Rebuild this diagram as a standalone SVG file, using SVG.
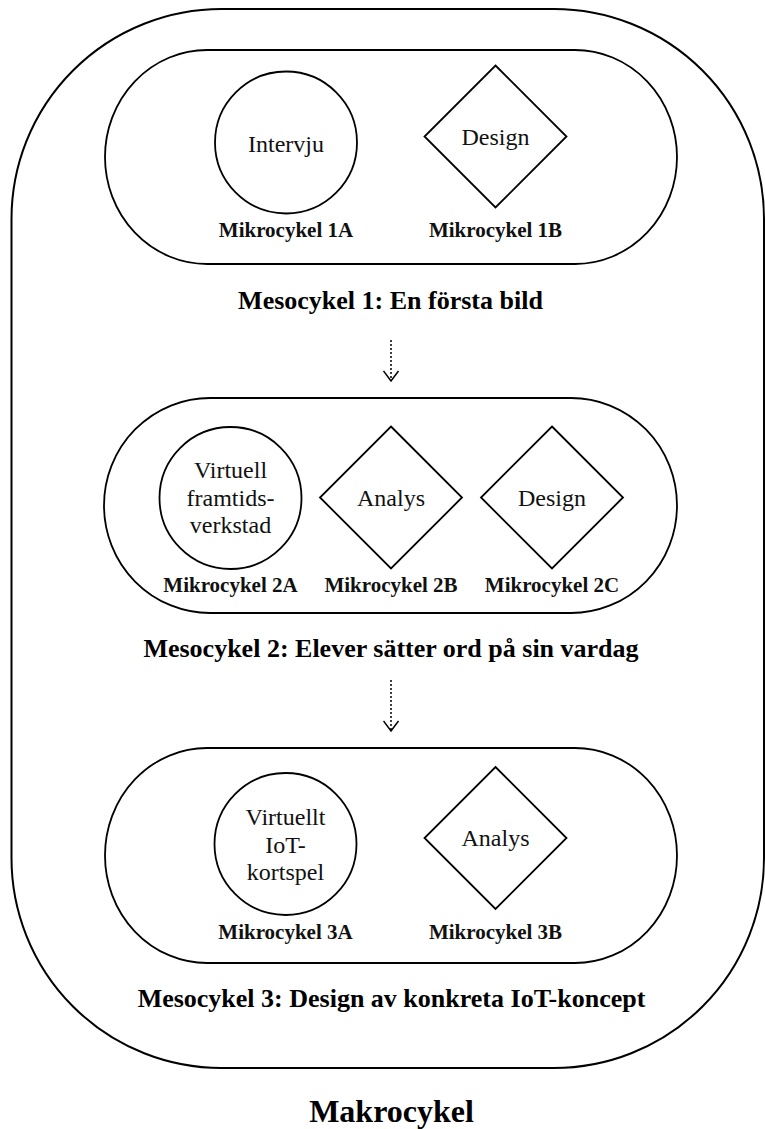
<svg xmlns="http://www.w3.org/2000/svg" width="765" height="1129" viewBox="0 0 765 1129">
<style>
.shape{fill:none;stroke:#000;stroke-width:1.8}
.outer{fill:none;stroke:#000;stroke-width:2}
.inner{font-family:"Liberation Serif","Times New Roman",serif;font-size:24px;fill:#111;text-anchor:middle}
.mik{font-family:"Liberation Serif","Times New Roman",serif;font-size:21px;font-weight:bold;fill:#111;text-anchor:middle}
.meso{font-family:"Liberation Serif","Times New Roman",serif;font-size:26px;font-weight:bold;fill:#000;text-anchor:middle}
.makro{font-family:"Liberation Serif","Times New Roman",serif;font-size:32px;font-weight:bold;fill:#000;text-anchor:middle}
.conn{fill:none;stroke:#000;stroke-width:1.5;stroke-dasharray:2 2}
</style>
<defs>
<marker id="chev" markerWidth="13" markerHeight="17" refX="11" refY="8.5" markerUnits="userSpaceOnUse" orient="auto" viewBox="0 0 13 17">
<path d="M1,1 L11,8.5 L1,16" fill="none" stroke="#000" stroke-width="1.5"/>
</marker>
</defs>
<rect width="765" height="1129" fill="#fff"/>
<g id="makrocykel">
<rect class="outer" x="11.5" y="9" width="752.5" height="1059" rx="210" ry="210"/>
<text class="makro" x="391.5" y="1122">Makrocykel</text>
</g>
<g id="mesocykel1">
<rect class="shape" x="105" y="50" width="572" height="214" rx="102" ry="107"/>
<text class="meso" x="390.5" y="309">Mesocykel 1: En första bild</text>
</g>
<g id="mikrocykel1A">
<circle class="shape" cx="286" cy="142.5" r="71"/>
<text class="inner" x="286" y="152">Intervju</text>
<text class="mik" x="286" y="237">Mikrocykel 1A</text>
</g>
<g id="mikrocykel1B">
<polygon class="shape" points="495.5,65.5 566.5,136.5 495.5,207.5 424.5,136.5"/>
<text class="inner" x="495.5" y="145">Design</text>
<text class="mik" x="495.5" y="237">Mikrocykel 1B</text>
</g>
<g id="mesocykel2">
<rect class="shape" x="104" y="398" width="573" height="215" rx="106" ry="107.5"/>
<text class="meso" x="391" y="657">Mesocykel 2: Elever sätter ord på sin vardag</text>
</g>
<g id="mikrocykel2A">
<circle class="shape" cx="230.5" cy="498" r="71"/>
<text class="inner" x="230.5" y="478">Virtuell</text>
<text class="inner" x="230.5" y="505.5">framtids-</text>
<text class="inner" x="230.5" y="533">verkstad</text>
<text class="mik" x="230.5" y="592">Mikrocykel 2A</text>
</g>
<g id="mikrocykel2B">
<polygon class="shape" points="391,426.5 462,497.5 391,568.5 320,497.5"/>
<text class="inner" x="391" y="506">Analys</text>
<text class="mik" x="391" y="592">Mikrocykel 2B</text>
</g>
<g id="mikrocykel2C">
<polygon class="shape" points="552,426.5 623,497.5 552,568.5 481,497.5"/>
<text class="inner" x="552" y="506">Design</text>
<text class="mik" x="552" y="592">Mikrocykel 2C</text>
</g>
<g id="mesocykel3">
<rect class="shape" x="105" y="748" width="572" height="215" rx="102" ry="107.5"/>
<text class="meso" x="391.5" y="1007">Mesocykel 3: Design av konkreta IoT-koncept</text>
</g>
<g id="mikrocykel3A">
<circle class="shape" cx="285.5" cy="844" r="71"/>
<text class="inner" x="285.5" y="825">Virtuellt</text>
<text class="inner" x="285.5" y="852.5">IoT-</text>
<text class="inner" x="285.5" y="880">kortspel</text>
<text class="mik" x="285.5" y="939">Mikrocykel 3A</text>
</g>
<g id="mikrocykel3B">
<polygon class="shape" points="495.5,767 566.5,838 495.5,909 424.5,838"/>
<text class="inner" x="495.5" y="846">Analys</text>
<text class="mik" x="495.5" y="939">Mikrocykel 3B</text>
</g>
<g id="connectors">
<line class="conn" x1="391" y1="340" x2="391" y2="381" marker-end="url(#chev)"/>
<line class="conn" x1="391" y1="680" x2="391" y2="731" marker-end="url(#chev)"/>
</g>
</svg>
